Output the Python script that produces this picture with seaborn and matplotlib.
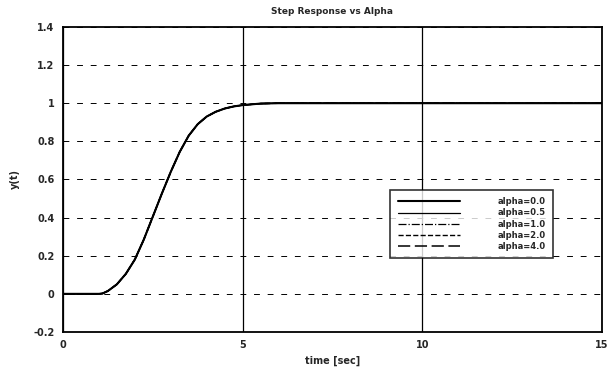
import pandas as pd
import matplotlib
matplotlib.use("Agg")
import matplotlib.pyplot as plt
import seaborn as sns

# time axis and step responses (the curves overlap)
time = [0, 0.5, 1.0, 1.1, 1.25, 1.5, 1.75, 2.0, 2.25, 2.5, 2.75, 3.0, 3.25,
        3.5, 3.75, 4.0, 4.25, 4.5, 4.75, 5.0, 5.5, 6.0, 7.0, 8.0, 9.0, 10.0,
        11.0, 12.0, 13.0, 14.0, 15.0]
y_a00 = [0, 0, 0, 0.002, 0.015, 0.05, 0.105, 0.18, 0.285, 0.405, 0.525,
         0.64, 0.745, 0.83, 0.89, 0.93, 0.955, 0.972, 0.983, 0.99, 0.998,
         1.0, 1.0, 1.0, 1.0, 1.0, 1.0, 1.0, 1.0, 1.0, 1.0]
y_a05 = list(y_a00)
y_a10 = list(y_a00)
y_a20 = list(y_a00)
y_a40 = list(y_a00)
labels = ["alpha=0.0", "alpha=0.5", "alpha=1.0", "alpha=2.0", "alpha=4.0"]
series = [y_a00, y_a05, y_a10, y_a20, y_a40]

xticks = [0, 5, 10, 15]
yticks = [-0.2, 0, 0.2, 0.4, 0.6, 0.8, 1, 1.2, 1.4]
ytick_labels = ["-0.2", "0", "0.2", "0.4", "0.6", "0.8", "1", "1.2", "1.4"]

sns.set_style("white")
plt.rcParams["font.family"] = ["DejaVu Sans"]

fig = plt.figure(figsize=(6.09, 3.69), dpi=100)
ax = fig.add_axes([0.1034, 0.1003, 0.885, 0.8267])

styles = [("-", 1.5), ("-", 0.9), ("-.", 0.9), ("--", 1.0), ((0, (8, 3)), 1.1)]
for lab, ys, (ls, lw) in zip(labels, series, styles):
    df = pd.DataFrame({"t": time, "y": ys})
    sns.lineplot(data=df, x="t", y="y", ax=ax, color="black", linestyle=ls,
                 linewidth=lw, label=lab)

ax.set_xlim(0, 15)
ax.set_ylim(-0.2, 1.4)
ax.set_xticks(xticks)
ax.set_xticklabels([str(v) for v in xticks], fontsize=7, fontweight="bold")
ax.set_yticks(yticks)
ax.set_yticklabels(ytick_labels, fontsize=7, fontweight="bold")
ax.tick_params(length=0, pad=6)

ax.grid(True, axis="y", linestyle=(0, (6, 8)), color="black", linewidth=0.7)
ax.grid(True, axis="x", linestyle="-", color="black", linewidth=0.9)

for sp in ax.spines.values():
    sp.set_color("black")
    sp.set_linewidth(1.3)

ax.set_title("Step Response vs Alpha", fontsize=6.5, fontweight="bold", pad=9)
ax.set_xlabel("time [sec]", fontsize=7, fontweight="bold", labelpad=4)
ax.set_ylabel("y(t)", fontsize=7, fontweight="bold", labelpad=10)

leg = ax.legend(loc="upper left", bbox_to_anchor=(0.607, 0.466),
                prop={"weight": "bold", "size": 6},
                frameon=True, fancybox=False, handlelength=7.5,
                handletextpad=4.5, borderpad=0.9, labelspacing=0.25,
                borderaxespad=0)
leg.get_frame().set_edgecolor("black")
leg.get_frame().set_linewidth(1.2)

fig.savefig("out.png", dpi=100)
